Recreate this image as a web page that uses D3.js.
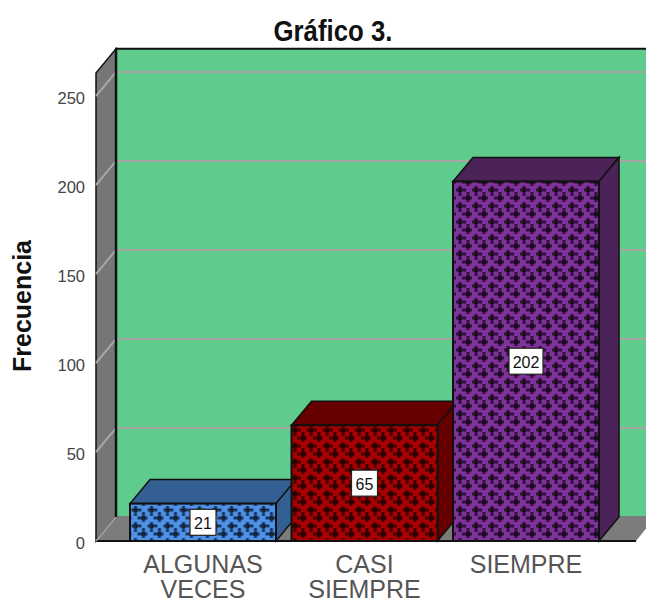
<!DOCTYPE html>
<html>
<head>
<meta charset="utf-8">
<script src="https://cdn.jsdelivr.net/npm/d3@7"></script>
<style>
  html, body { margin: 0; padding: 0; background: #fff; }
  svg { display: block; }
  text { font-family: "Liberation Sans", Arial, sans-serif; }
</style>
</head>
<body>
<div id="plot"></div>
<script>
const categories = ['ALGUNAS VECES', 'CASI SIEMPRE', 'SIEMPRE'];
const categoryLines = [['ALGUNAS', 'VECES'], ['CASI', 'SIEMPRE'], ['SIEMPRE']];
const values = [21, 65, 202];
const yTicks = [0, 50, 100, 150, 200, 250];
const frontColors = ['#4d92e8', '#a80000', '#7f3299'];
const sideColors = ['#345f92', '#660000', '#4b2358'];
const crossColors = ['#14233c', '#2a0000', '#1c0f24'];

const WIDTH = 646;
const HEIGHT = 599;
const DX = 20;
const DY = 24;
const FLOOR_Y = 541;
const LEFT = 96;
const PATTERN_ORIGIN = [[131.5, 506], [291, 426], [456, 186]];

const y = d3.scaleLinear().domain([0, 250]).range([FLOOR_Y, 96]);
const x = d3.scaleBand().domain(categories).range([130, 614.5]);
const barWidth = 146;

const svg = d3.select('#plot').append('svg')
  .attr('width', WIDTH)
  .attr('height', HEIGHT);

const defs = svg.append('defs');
defs.append('filter').attr('id', 'soft')
  .append('feGaussianBlur').attr('stdDeviation', 0.5);

frontColors.forEach((c, i) => {
  const p = defs.append('pattern')
    .attr('id', `hatch-${i}`)
    .attr('patternUnits', 'userSpaceOnUse')
    .attr('x', PATTERN_ORIGIN[i][0])
    .attr('y', PATTERN_ORIGIN[i][1])
    .attr('width', 16)
    .attr('height', 16);
  p.append('rect').attr('width', 16).attr('height', 16).attr('fill', c);
  const cross = p.append('g').attr('filter', 'url(#soft)').attr('fill', crossColors[i]);
  [[4, 4], [12, 12]].forEach(([cx, cy]) => {
    cross.append('path')
      .attr('d', `M${cx - 1.5},${cy - 6}h3v4.5h4.5v3h-4.5v4.5h-3v-4.5h-4.5v-3h4.5z`)
      .attr('opacity', 0.8);
    cross.append('rect')
      .attr('x', cx - 2).attr('y', cy - 2)
      .attr('width', 4).attr('height', 4)
      .attr('opacity', 0.95);
  });
});

const topY = y(263);
const poly = (pts) => pts.map((p) => p.join(',')).join(' ');

// back wall
svg.append('polygon')
  .attr('points', poly([[LEFT + DX, topY - DY], [WIDTH + 10, topY - DY], [WIDTH + 10, FLOOR_Y - DY], [LEFT + DX, FLOOR_Y - DY]]))
  .attr('fill', '#5fcb8c')
  .attr('stroke', '#111')
  .attr('stroke-width', 2);

// left wall
svg.append('polygon')
  .attr('points', poly([[LEFT, topY], [LEFT + DX, topY - DY], [LEFT + DX, FLOOR_Y - DY], [LEFT, FLOOR_Y]]))
  .attr('fill', '#767676')
  .attr('stroke', '#111')
  .attr('stroke-width', 1.5);

// floor
svg.append('polygon')
  .attr('points', poly([[LEFT, FLOOR_Y], [LEFT + DX, FLOOR_Y - DY - 1], [656, FLOOR_Y - DY - 1], [636, FLOOR_Y]]))
  .attr('fill', '#7c7c7c');
svg.append('line')
  .attr('x1', LEFT).attr('x2', 636)
  .attr('y1', FLOOR_Y).attr('y2', FLOOR_Y)
  .attr('stroke', '#111').attr('stroke-width', 2);

// gridlines, back wall and left wall
const grid = svg.append('g').attr('fill', 'none').attr('stroke', '#a6a6a6').attr('stroke-width', 2);
yTicks.filter((t) => t > 0).forEach((t) => {
  grid.append('path')
    .attr('d', `M${LEFT},${y(t)}L${LEFT + DX},${y(t) - DY}H${WIDTH}`);
});
svg.append('line')
  .attr('x1', LEFT).attr('x2', LEFT + DX)
  .attr('y1', FLOOR_Y).attr('y2', FLOOR_Y - DY)
  .attr('stroke', '#a6a6a6').attr('stroke-width', 1.5);
svg.append('line')
  .attr('x1', LEFT + DX).attr('x2', LEFT + DX)
  .attr('y1', topY - DY).attr('y2', FLOOR_Y - DY)
  .attr('stroke', '#111').attr('stroke-width', 2.5);

// bars
const bars = svg.selectAll('.bar')
  .data(values)
  .enter()
  .append('g')
    .attr('class', 'bar');

bars.append('polygon')
  .attr('points', (d, i) => {
    const x0 = x(categories[i]);
    const x1 = x0 + barWidth;
    return poly([[x0, y(d)], [x0 + DX, y(d) - DY], [x1 + DX, y(d) - DY], [x1, y(d)]]);
  })
  .attr('fill', (d, i) => sideColors[i])
  .attr('stroke', '#111')
  .attr('stroke-width', 1.5);

bars.append('polygon')
  .attr('points', (d, i) => {
    const x1 = x(categories[i]) + barWidth;
    return poly([[x1, y(d)], [x1 + DX, y(d) - DY], [x1 + DX, y(0) - DY], [x1, y(0)]]);
  })
  .attr('fill', (d, i) => sideColors[i])
  .attr('stroke', '#111')
  .attr('stroke-width', 1.5);

bars.append('rect')
  .attr('x', (d, i) => x(categories[i]))
  .attr('y', (d) => y(d))
  .attr('width', barWidth)
  .attr('height', (d) => y(0) - y(d))
  .attr('fill', (d, i) => `url(#hatch-${i})`)
  .attr('stroke', '#111')
  .attr('stroke-width', 2);

// value labels
const labelW = [26, 26, 34];
bars.append('rect')
  .attr('x', (d, i) => x(categories[i]) + barWidth / 2 - labelW[i] / 2)
  .attr('y', (d) => (y(d) + y(0)) / 2 - 13)
  .attr('width', (d, i) => labelW[i])
  .attr('height', 26)
  .attr('fill', '#fff')
  .attr('stroke', '#222')
  .attr('stroke-width', 1.2);

bars.append('text')
  .attr('x', (d, i) => x(categories[i]) + barWidth / 2)
  .attr('y', (d) => (y(d) + y(0)) / 2 + 6.5)
  .attr('text-anchor', 'middle')
  .attr('font-size', 16)
  .attr('fill', '#111')
  .text((d) => d);

// y axis labels
const yAxis = d3.axisLeft(y).tickValues(yTicks).tickSize(0).tickPadding(10);
const yG = svg.append('g')
  .attr('transform', `translate(${LEFT - 1},2.5)`)
  .call(yAxis);
yG.select('.domain').remove();
yG.selectAll('text')
  .attr('font-size', 16.5)
  .attr('fill', '#444')
  .style('font-family', '"Liberation Sans", Arial, sans-serif');

// x labels
categoryLines.forEach((lines, i) => {
  lines.forEach((line, j) => {
    svg.append('text')
      .attr('x', x(categories[i]) + barWidth / 2)
      .attr('y', 573 + j * 25)
      .attr('text-anchor', 'middle')
      .attr('font-size', 25)
      .attr('fill', '#555')
      .text(line);
  });
});

// title
svg.append('text')
  .attr('transform', 'translate(333,41) scale(0.86,1)')
  .attr('text-anchor', 'middle')
  .attr('font-size', 30)
  .attr('font-weight', 'bold')
  .attr('fill', '#111')
  .text('Gráfico 3.');

// y title
svg.append('text')
  .attr('transform', 'translate(31,306) rotate(-90)')
  .attr('text-anchor', 'middle')
  .attr('font-size', 25)
  .attr('font-weight', 'bold')
  .attr('fill', '#111')
  .text('Frecuencia');
</script>
</body>
</html>
